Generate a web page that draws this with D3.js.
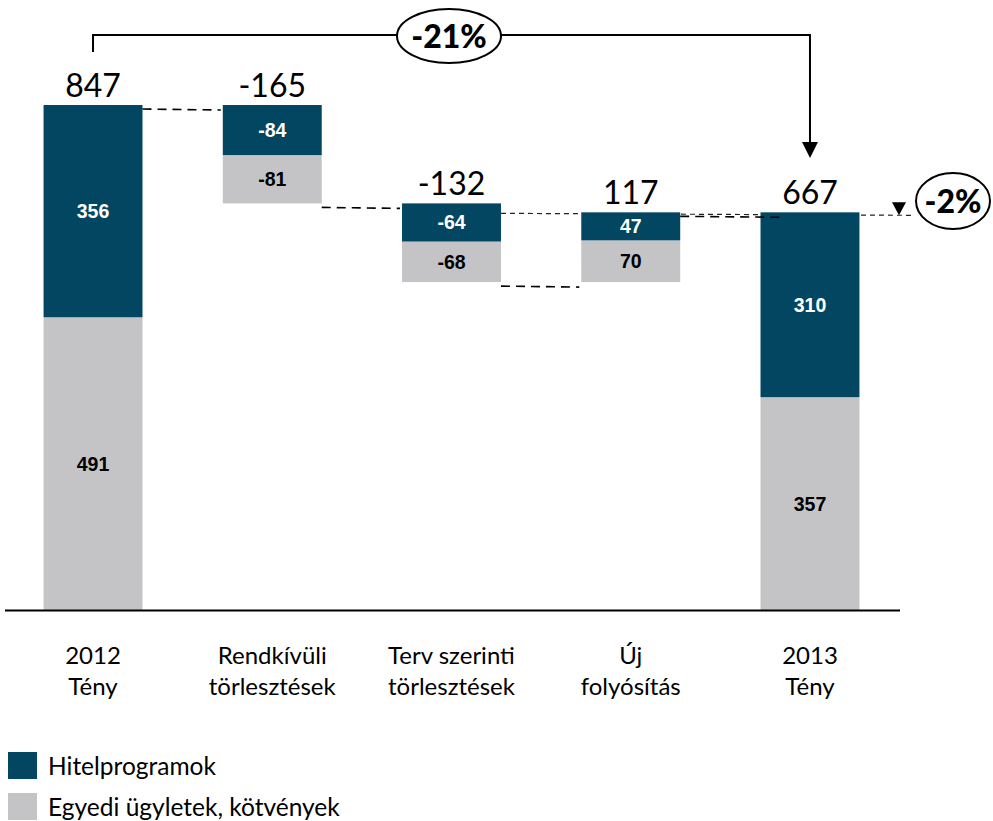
<!DOCTYPE html>
<html lang="hu">
  <head>
    <meta charset="utf-8">
    <title>Waterfall 2012-2013</title>
    <script src="https://cdnjs.cloudflare.com/ajax/libs/d3/7.8.0/d3.min.js"></script>
    <style>
      body { margin: 0; background: #fff; }
      text { font-family: Lato, "Open Sans", sans-serif; }
      .inner { font-family: "Liberation Sans", Arial, sans-serif; font-weight: bold; font-size: 19.5px; }
      .total-label { font-size: 32px; }
      .cat-label { font-size: 24px; }
      .legend-label { font-size: 24.5px; }
      .pct { font-size: 32px; font-weight: 900; }
    </style>
  </head>
  <body>
    <div id="chartContainer"></div>

    <script type="text/javascript">
      // Data
      var categories = ["2012 Tény", "Rendkívüli törlesztések", "Terv szerinti törlesztések", "Új folyósítás", "2013 Tény"];
      var catLines = [["2012", "Tény"], ["Rendkívüli", "törlesztések"], ["Terv szerinti", "törlesztések"], ["Új", "folyósítás"], ["2013", "Tény"]];
      var kinds = ["total", "delta", "delta", "delta", "total"];
      var hitel = [356, -84, -64, 47, 310];
      var egyedi = [491, -81, -68, 70, 357];
      var totals = [847, -165, -132, 117, 667];
      var seriesNames = ["Hitelprogramok", "Egyedi ügyletek, kötvények"];
      var bigChange = "-21%";
      var smallChange = "-2%";

      var navy = "#034662", grey = "#c4c4c6";

      var width = 993, height = 821;
      var svg = d3.select("#chartContainer")
                  .append("svg")
                  .attr("width", width)
                  .attr("height", height);

      var x = d3.scaleBand()
                .domain(categories)
                .range([3.4, 899.6])
                .paddingInner(0.448)
                .paddingOuter(0.224);

      var y = d3.scaleLinear()
                .domain([0, 1000])
                .range([610, 610 - 596.2]);

      // build waterfall segments
      var rows = [];
      var running = 0;
      categories.forEach(function(c, i) {
        var start = kinds[i] === "total" ? 0 : running;
        var end = kinds[i] === "total" ? totals[i] : running + totals[i];
        var low = Math.min(start, end);
        var high = Math.max(start, end);
        rows.push({
          cat: c, i: i, start: start, end: end, low: low, high: high,
          segs: [
            { key: "g", v: egyedi[i], y0: low, y1: low + Math.abs(egyedi[i]) },
            { key: "h", v: hitel[i], y0: low + Math.abs(egyedi[i]), y1: high }
          ]
        });
        running = kinds[i] === "total" ? totals[i] : end;
      });

      // -2% reference dashed line (behind bars)
      svg.append("line")
         .attr("x1", x(categories[2]) + x.bandwidth())
         .attr("x2", 915)
         .attr("y1", y(totals[4]) + 1)
         .attr("y2", y(totals[4]) + 3)
         .attr("stroke", "#222")
         .attr("stroke-width", 1.2)
         .attr("stroke-dasharray", "5,4");

      // bars
      var g = svg.selectAll(".bar")
                 .data(rows)
                 .enter().append("g")
                 .attr("class", "bar");

      g.selectAll("rect")
       .data(function(d) { return d.segs.map(function(s) { return Object.assign({ cat: d.cat }, s); }); })
       .enter().append("rect")
       .attr("x", function(s) { return x(s.cat); })
       .attr("y", function(s) { return y(s.y1); })
       .attr("width", x.bandwidth())
       .attr("height", function(s) { return y(s.y0) - y(s.y1); })
       .attr("fill", function(s) { return s.key === "h" ? navy : grey; });

      g.selectAll("text.inner")
       .data(function(d) { return d.segs.map(function(s) { return Object.assign({ cat: d.cat }, s); }); })
       .enter().append("text")
       .attr("class", "inner")
       .attr("x", function(s) { return x(s.cat) + x.bandwidth() / 2; })
       .attr("y", function(s) { return (y(s.y0) + y(s.y1)) / 2; })
       .attr("dy", "0.36em")
       .attr("text-anchor", "middle")
       .attr("fill", function(s) { return s.key === "h" ? "#fff" : "#000"; })
       .text(function(s) { return s.v; });

      // total labels above bars
      svg.selectAll(".total-label")
         .data(rows)
         .enter().append("text")
         .attr("class", "total-label")
         .attr("x", function(d) { return x(d.cat) + x.bandwidth() / 2; })
         .attr("y", function(d) { return y(d.high) - 8; })
         .attr("text-anchor", "middle")
         .attr("fill", "#000")
         .text(function(d, i) { return totals[i]; });

      // connectors between bars
      var conn = [];
      for (var i = 0; i < rows.length - 1; i++) {
        conn.push({ from: rows[i], to: rows[i + 1], level: rows[i].end });
      }
      svg.selectAll(".conn")
         .data(conn)
         .enter().append("line")
         .attr("class", "conn")
         .attr("x1", function(d) { return x(d.from.cat) + x.bandwidth(); })
         .attr("x2", function(d, i) { return x(d.to.cat) + (i === 3 ? 23 : -2); })
         .attr("y1", function(d) { return y(d.level) + 4; })
         .attr("y2", function(d) { return y(d.level) + 5; })
         .attr("stroke", "#000")
         .attr("stroke-width", 1.6)
         .attr("stroke-dasharray", "9,6");

      // x axis line
      svg.append("line")
         .attr("x1", 5).attr("x2", 900)
         .attr("y1", y(0) + 0.5).attr("y2", y(0) + 0.5)
         .attr("stroke", "#000")
         .attr("stroke-width", 2);

      // category labels
      var cl = svg.selectAll(".cat-label")
                  .data(categories)
                  .enter().append("text")
                  .attr("class", "cat-label")
                  .attr("text-anchor", "middle")
                  .attr("fill", "#000");
      cl.selectAll("tspan")
        .data(function(d, i) { return catLines[i].map(function(t) { return { t: t, c: d }; }); })
        .enter().append("tspan")
        .attr("x", function(o) { return x(o.c) + x.bandwidth() / 2; })
        .attr("y", function(o, j) { return 664 + j * 31; })
        .text(function(o) { return o.t; });

      // -21% bracket
      var x0 = x(categories[0]) + x.bandwidth() / 2;
      var x4 = x(categories[4]) + x.bandwidth() / 2;
      svg.append("path")
         .attr("d", "M" + x0 + ",52V35H" + x4 + "V146")
         .attr("fill", "none")
         .attr("stroke", "#000")
         .attr("stroke-width", 2);
      svg.append("path")
         .attr("d", "M" + (x4 - 8) + ",142L" + (x4 + 8) + ",142L" + x4 + ",158Z")
         .attr("fill", "#000");
      svg.append("ellipse")
         .attr("cx", 449).attr("cy", 36)
         .attr("rx", 52).attr("ry", 27)
         .attr("fill", "#fff")
         .attr("stroke", "#000")
         .attr("stroke-width", 2);
      svg.append("text")
         .attr("class", "pct")
         .attr("x", 449).attr("y", 36)
         .attr("dy", "0.36em")
         .attr("text-anchor", "middle")
         .text(bigChange);

      // -2% marker
      var ty = y(totals[4]) + 3;
      svg.append("path")
         .attr("d", "M892," + (ty - 13) + "L906," + (ty - 13) + "L899," + ty + "Z")
         .attr("fill", "#000");
      svg.append("ellipse")
         .attr("cx", 953).attr("cy", 201)
         .attr("rx", 37).attr("ry", 28)
         .attr("fill", "#fff")
         .attr("stroke", "#000")
         .attr("stroke-width", 2);
      svg.append("text")
         .attr("class", "pct")
         .attr("x", 953).attr("y", 201)
         .attr("dy", "0.36em")
         .attr("text-anchor", "middle")
         .text(smallChange);

      // legend
      var lg = svg.selectAll(".legend")
                  .data(seriesNames)
                  .enter().append("g")
                  .attr("class", "legend")
                  .attr("transform", function(d, i) { return "translate(8," + (752 + i * 41) + ")"; });
      lg.append("rect")
        .attr("width", 29).attr("height", 27)
        .attr("fill", function(d, i) { return i === 0 ? navy : grey; });
      lg.append("text")
        .attr("class", "legend-label")
        .attr("x", 40).attr("y", 14)
        .attr("dy", "0.36em")
        .attr("fill", "#000")
        .text(function(d) { return d; });
    </script>
  </body>
</html>
